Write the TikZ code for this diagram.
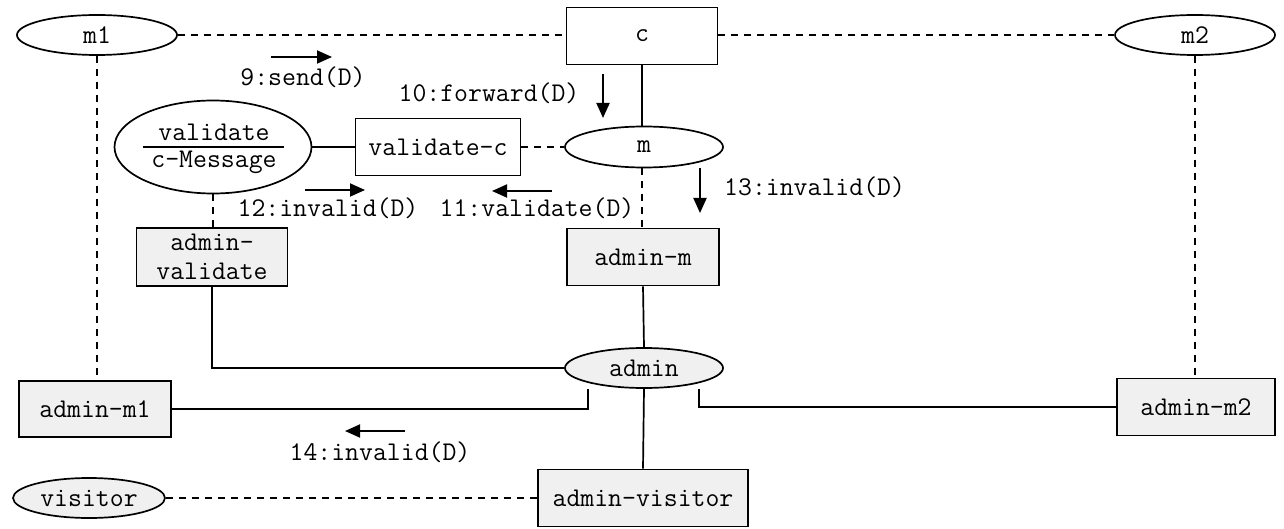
\documentclass[tikz,border=0pt]{standalone}
\usepackage{fontspec}
\usetikzlibrary{shapes.geometric,arrows.meta}
\definecolor{boxgray}{HTML}{F0F0F0}
\begin{document}
\begin{tikzpicture}[x=1pt,y=-1pt,
  every node/.style={font=\ttfamily\fontsize{27}{29}\selectfont, inner sep=0pt},
  ln/.style={line width=1.7pt},
  dl/.style={line width=1.7pt, dash pattern=on 7pt off 6pt},
  box/.style={draw, line width=1.7pt, rectangle, align=center},
  ell/.style={draw, line width=1.7pt, ellipse},
  shaded/.style={fill=boxgray},
  msg/.style={line width=1.9pt, -{Triangle[length=15pt,width=13pt]}}
]
\useasboundingbox (0,0) rectangle (1284,529);

% nodes
\node[ell, minimum width=160, minimum height=40] (m1) at (97,35) {m1};
\node[box, minimum width=151, minimum height=57] (c) at (642,36) {c};
\node[ell, minimum width=160, minimum height=40] (m2) at (1195,35) {m2};

\node[ell, minimum width=197, minimum height=93] (val) at (213,147) {};
\node (valt) at (214,132) {validate};
\node (valb) at (214,162) {c-Message};
\draw[ln] ([xshift=-70]val.center) -- ([xshift=71]val.center);

\node[box, minimum width=165, minimum height=57] (valc) at (438,147) {validate-c};
\node[ell, minimum width=158, minimum height=41] (m) at (644,147) {m};

\node[box, shaded, minimum width=151, minimum height=58] (adval) at (212,257) {admin-\\validate};
\node[box, shaded, minimum width=152, minimum height=57] (adm) at (643,257) {admin-m};
\node[ell, shaded, minimum width=158, minimum height=40] (admin) at (644,368) {admin};

\node[box, shaded, minimum width=152, minimum height=56] (adm1) at (95,409) {admin-m1};
\node[box, shaded, minimum width=158, minimum height=57] (adm2) at (1196,407) {admin-m2};
\node[box, shaded, minimum width=210, minimum height=57] (advis) at (643,498) {admin-visitor};
\node[ell, shaded, minimum width=152, minimum height=40] (vis) at (89,498) {visitor};

% connectors
\draw[dl] (m1.east) -- (c.west |- m1.east);
\draw[dl] (c.east |- m2.west) -- (m2.west);
\draw[dl] (m1.south) -- (adm1.north -| m1.south);
\draw[dl] (m2.south) -- (adm2.north -| m2.south);
\draw[ln] (val.east) -- (valc.west);
\draw[dl] (valc.east) -- (m.west);
\draw[ln] (c.south) -- (m.north -| c.south);
\draw[dl] (m.south -| c.south) -- (adm.north -| c.south);
\draw[dl] (val.south) -- (adval.north -| val.south);
\draw[ln] (adm.south) -- (admin.north);
\draw[ln] (adval.south) |- (admin.west);
\coordinate (aL) at (588,368);
\coordinate (aR) at (699,368);
\draw[ln] (adm1.east) -| (admin.south -| aL) ;
\draw[ln] (adm2.west) -| (admin.south -| aR);
\draw[ln] (admin.south) -- (advis.north);
\draw[dl] (vis.east) -- (advis.west);

% messages
\draw[msg] (271,57) -- (332,57);
\node at (303,77) {9:send(D)};
\draw[msg] (603,74) -- (603,118);
\node at (489,93) {10:forward(D)};
\draw[msg] (305,190) -- (365,190);
\node at (328,208) {12:invalid(D)};
\draw[msg] (552,191) -- (492,191);
\node at (537,208) {11:validate(D)};
\draw[msg] (700,168) -- (700,213);
\node[anchor=west] at (724,187) {13:invalid(D)};
\draw[msg] (405,431) -- (345,431);
\node at (380,452) {14:invalid(D)};
\end{tikzpicture}
\end{document}
